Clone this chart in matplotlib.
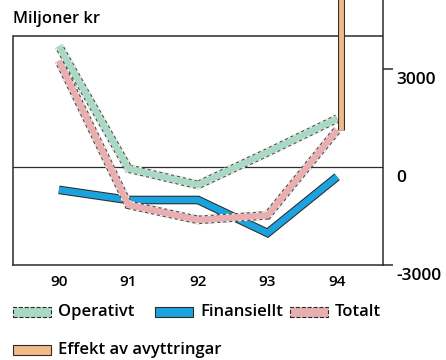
import matplotlib
matplotlib.use("Agg")
import matplotlib.pyplot as plt
import matplotlib.patches as mpatches
import matplotlib.transforms as mtransforms

plt.rcParams['font.family'] = ['Open Sans', 'DejaVu Sans']

# data (millioner kr)
years = [90, 91, 92, 93, 94]
year_labels = ["90", "91", "92", "93", "94"]
operativt = [3700, -50, -550, 450, 1480]
finansiellt = [-700, -1010, -1010, -2020, -300]
totalt = [3250, -1160, -1620, -1480, 1130]
effekt_94 = 6000  # goes off the top of the picture

green = "#a9d9c4"
blue = "#1ba3df"
pink = "#e9aeb0"
orange = "#f2bb86"
dark = "#2b2b2b"

W, H = 446, 360
fig = plt.figure(figsize=(W / 100, H / 100), dpi=100)
ax = fig.add_axes([13 / W, (H - 265) / H, 370 / W, 265 / H])

ymin, ymax = -3000, 5112
ax.set_ylim(ymin, ymax)
ax.set_xlim(89.34, 94.66)


def band(x, y, col, dashed, lw=6.2, z=2):
    # dark edge first, the coloured core on top
    edge = "#4a4a4a" if dashed else dark
    ax.plot(x, y, color=edge, lw=lw, solid_capstyle="butt",
            solid_joinstyle="miter", zorder=z)
    if dashed:
        ax.plot(x, y, color="white", lw=lw, solid_capstyle="butt",
                ls=(0, (0.35, 0.35)), zorder=z + 0.05)
    ax.plot(x, y, color=col, lw=lw - 1.5, solid_capstyle="butt",
            solid_joinstyle="miter", zorder=z + 0.1)


band(years, finansiellt, blue, False, z=2)
band(years, totalt, pink, True, z=3)
band(years, operativt, green, True, z=4)
band([94.06, 94.06], [totalt[-1], totalt[-1] + effekt_94], orange, False, lw=5, z=5)

# frame
ax.spines["top"].set_visible(False)
ax.spines["left"].set_bounds(ymin, 4000)
for s in ["left", "right", "bottom"]:
    ax.spines[s].set_linewidth(1.1)
    ax.spines[s].set_color(dark)
ax.axhline(4000, color=dark, lw=1.1, zorder=1)
ax.axhline(0, color=dark, lw=0.9, zorder=1)

ax.set_xticks(years)
ax.set_xticklabels(year_labels, fontsize=11, fontweight="semibold")
ax.tick_params(axis="x", length=0, pad=7)

ax.yaxis.tick_right()
ax.set_yticks([-3000, 0, 3000])
ax.set_yticklabels(["-3000", "0", "3000"], fontsize=12.5, fontweight="semibold")
ax.tick_params(axis="y", length=7, width=1.1, color=dark, pad=2.5)
for t in ax.yaxis.get_major_ticks():
    if t.get_loc() == 0:
        t.tick2line.set_visible(False)
off = mtransforms.ScaledTranslation(0, -9 / 100, fig.dpi_scale_trans)
for lab in ax.get_yticklabels():
    lab.set_transform(lab.get_transform() + off)

fig.text(13 / W, 1 - 19 / H, "Miljoner kr", fontsize=11.8, fontweight="semibold",
         va="center", ha="left")

# legend, drawn by hand
legend_items = [
    ("Operativt", green, True, 13, 312),
    ("Finansiellt", blue, False, 155, 312),
    ("Totalt", pink, True, 290, 312),
    ("Effekt av avyttringar", orange, False, 13, 350),
]
for name, col, dashed, px, py in legend_items:
    r = mpatches.Rectangle((px / W, 1 - (py + 5) / H), 38 / W, 10 / H,
                           transform=fig.transFigure, facecolor=col, edgecolor=dark,
                           lw=0.8, ls="--" if dashed else "-")
    fig.patches.append(r)
    fig.text((px + 45) / W, 1 - py / H, name, fontsize=12, fontweight="semibold",
             va="center", ha="left")

fig.savefig("out.png", dpi=100)
